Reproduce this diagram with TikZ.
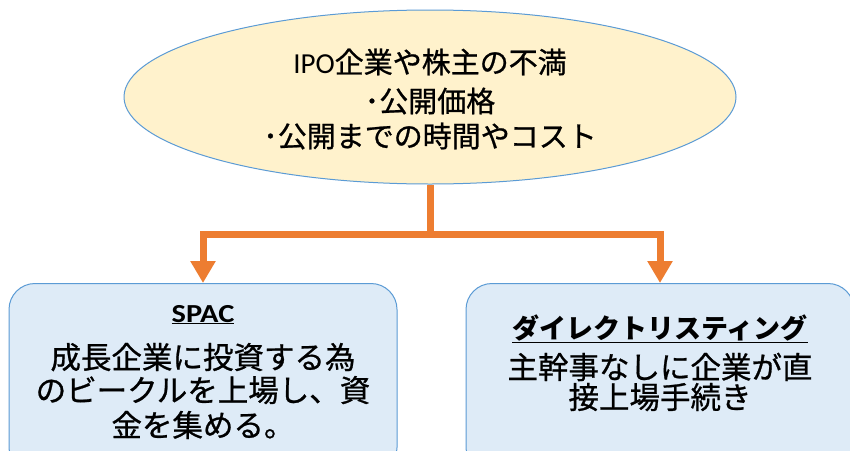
\documentclass[tikz,border=0pt]{standalone}
\usepackage{fontspec}
\setmainfont{Carlito}
\newfontfamily\cjk{Noto Sans CJK JP}[UprightFeatures={FakeBold=0.8}]
\newfontfamily\lat{Carlito}[FakeStretch=1.17]
\usetikzlibrary{arrows.meta,shapes.geometric}
\definecolor{edgeblue}{HTML}{5B9BD5}
\definecolor{ellfill}{HTML}{FFF2CC}
\definecolor{boxfill}{HTML}{DEEBF7}
\definecolor{flow}{HTML}{ED7D31}
\begin{document}
\begin{tikzpicture}[x=1pt,y=-1pt,
  ell/.style={ellipse, draw=edgeblue, fill=ellfill, line width=1pt, minimum width=612pt, minimum height=174pt, inner sep=0pt},
  box/.style={rounded corners=26pt, draw=edgeblue, fill=boxfill, line width=1pt, minimum width=388pt, minimum height=190pt, anchor=north, inner sep=0pt},
  etxt/.style={font=\cjk\fontsize{29}{34}\selectfont, inner sep=0pt, anchor=base},
  btxt/.style={font=\cjk\fontsize{30.5}{36}\selectfont, inner sep=0pt, anchor=base},
  flowline/.style={draw=flow, line width=7pt, -{Triangle[width=24pt,length=22pt]}}
]
\useasboundingbox (0,0) rectangle (850,450);
\clip (0,0) rectangle (850,450);
\fill[white] (0,0) rectangle (850,450);

\node[ell] (ell) at (430,97) {};
\node[etxt] (e1) at (430,73) {{\rmfamily IPO}企業や株主の不満};
\node[etxt] (e2) at (430,112) {･公開価格};
\node[etxt] (e3) at (430,147) {･公開までの時間やコスト};

\node[box] (spac) at (203,283) {};
\node[btxt, font=\lat\bfseries\fontsize{26}{32}\selectfont] (t1) at (203,322) {\underline{SPAC}};
\node[btxt] (l1) at (203,368.6) {成長企業に投資する為};
\node[btxt] (l2) at (203,401.6) {のビークルを上場し、資};
\node[btxt] (l3) at (203,436.6) {金を集める。};

\node[box] (dl) at (660,283) {};
\node[btxt, font=\cjk\bfseries\fontsize{27}{32}\selectfont] (t2) at (660,338) {\underline{ダイレクトリスティング}};
\node[btxt] (r1) at (660,378.6) {主幹事なしに企業が直};
\node[btxt] (r2) at (660,408.6) {接上場手続き};

\coordinate (split) at (430,234);
\draw[flowline] (ell.south) -- (split) -| (spac.north);
\draw[flowline] (ell.south) -- (split) -| (dl.north);
\end{tikzpicture}
\end{document}
